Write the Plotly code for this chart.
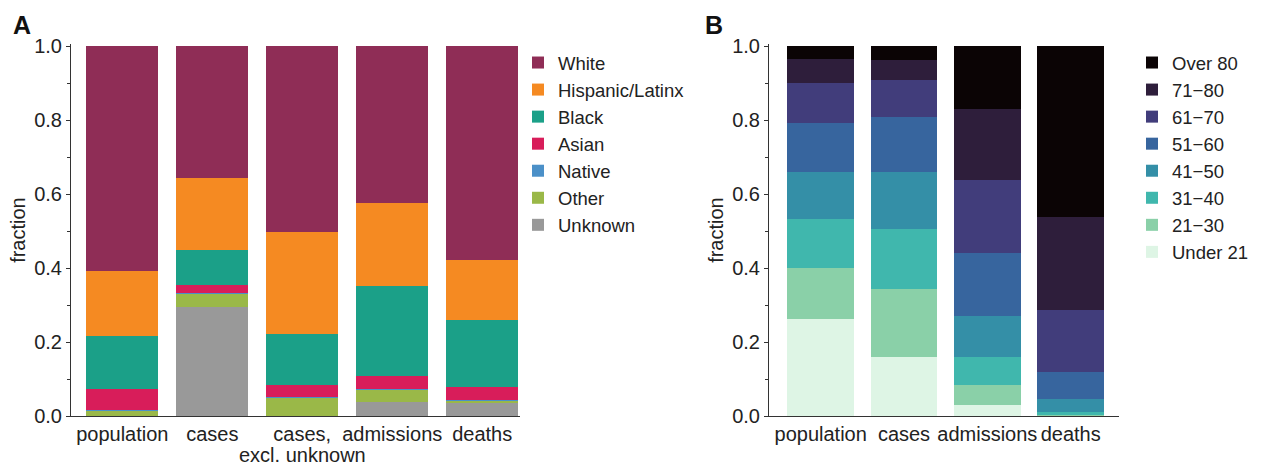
import plotly.graph_objects as go

# ---------------- Panel A: race/ethnicity ----------------
cats_a = ["population", "cases", "cases, excl. unknown", "admissions", "deaths"]
ticktext_a = ["population", "cases", "cases,", "admissions", "deaths"]
subtitle_a = "excl. unknown"
race_groups = ["Unknown", "Other", "Native", "Asian", "Black", "Hispanic/Latinx", "White"]
unknown = [0.000, 0.294, 0.000, 0.039, 0.034]
other = [0.015, 0.036, 0.050, 0.032, 0.008]
native = [0.001, 0.002, 0.002, 0.002, 0.001]
asian = [0.058, 0.022, 0.032, 0.036, 0.035]
black = [0.141, 0.096, 0.138, 0.243, 0.182]
hispanic = [0.177, 0.194, 0.276, 0.224, 0.161]
white = [0.608, 0.356, 0.502, 0.424, 0.579]
race_values = [unknown, other, native, asian, black, hispanic, white]
race_colors = ["#999999", "#9AB848", "#4B90C8", "#D81D5A", "#1BA088", "#F58A22", "#8F2D56"]

# ---------------- Panel B: age ----------------
cats_b = ["population", "cases", "admissions", "deaths"]
age_groups = ["Under 21", "21−30", "31−40", "41−50", "51−60", "61−70", "71−80", "Over 80"]
under21 = [0.262, 0.160, 0.030, 0.001]
age21_30 = [0.137, 0.184, 0.053, 0.003]
age31_40 = [0.134, 0.161, 0.076, 0.008]
age41_50 = [0.126, 0.154, 0.112, 0.034]
age51_60 = [0.132, 0.148, 0.169, 0.073]
age61_70 = [0.110, 0.101, 0.197, 0.168]
age71_80 = [0.063, 0.054, 0.192, 0.250]
over80 = [0.036, 0.038, 0.171, 0.463]
age_values = [under21, age21_30, age31_40, age41_50, age51_60, age61_70, age71_80, over80]
age_colors = ["#DEF5E5", "#8AD0A8", "#40B7AD", "#348FA7", "#37659E", "#413D7B", "#2E1E3B", "#0B0405"]

FONT = "Liberation Sans, Arial, sans-serif"
W, H = 1263, 469


def px(sx):
    return sx / W


def py(sy):
    return 1 - sy / H


fig = go.Figure()
for name, vals, col in zip(race_groups, race_values, race_colors):
    fig.add_trace(go.Bar(x=cats_a, y=vals, name=name, marker=dict(color=col, line=dict(width=0)),
                         xaxis="x", yaxis="y", legend="legend"))
for name, vals, col in zip(age_groups, age_values, age_colors):
    fig.add_trace(go.Bar(x=cats_b, y=vals, name=name, marker=dict(color=col, line=dict(width=0)),
                         xaxis="x2", yaxis="y2", legend="legend2"))

yax = dict(range=[0, 1.005], tickvals=[0, 0.2, 0.4, 0.6, 0.8, 1.0], tickformat=".1f",
           ticks="outside", ticklen=4, tickwidth=1, tickcolor="#333",
           minor=dict(tickvals=[0.1, 0.3, 0.5, 0.7, 0.9], ticks="outside", ticklen=3, tickcolor="#333"),
           showline=True, linecolor="#333", linewidth=1, showgrid=False, zeroline=False,
           tickfont=dict(size=20, color="#222"), automargin=False,
           title=dict(text="fraction", font=dict(size=20, color="#222"), standoff=3),
           domain=[py(416), py(44.15)])
xax = dict(showline=True, linecolor="#333", linewidth=1, ticks="", showgrid=False,
           tickangle=0, automargin=False, tickfont=dict(size=20, color="#222"))

fig.update_layout(
    width=W, height=H, barmode="stack", bargap=0.2,
    plot_bgcolor="white", paper_bgcolor="white",
    font=dict(family=FONT, color="#222"),
    margin=dict(l=0, r=0, t=0, b=0, autoexpand=False),
    showlegend=True,
    xaxis=dict(**xax, domain=[px(71), px(520)], range=[-0.57, 4.42],
               tickmode="array", tickvals=cats_a, ticktext=ticktext_a),
    yaxis=dict(**yax, anchor="x"),
    xaxis2=dict(**xax, domain=[px(769), px(1119)], range=[-0.62, 3.58], anchor="y2"),
    yaxis2=dict(**yax, anchor="x2"),
    legend=dict(x=px(518), y=py(44), xanchor="left", yanchor="top", traceorder="reversed",
                font=dict(size=18.5, color="#222"), tracegroupgap=0, bgcolor="rgba(0,0,0,0)"),
    legend2=dict(x=px(1132), y=py(44), xanchor="left", yanchor="top", traceorder="reversed",
                 font=dict(size=18.5, color="#222"), tracegroupgap=0, bgcolor="rgba(0,0,0,0)"),
    annotations=[
        dict(text="<b>A</b>", x=px(11), y=py(9), xref="paper", yref="paper",
             xanchor="left", yanchor="top", showarrow=False, font=dict(size=25, color="#111")),
        dict(text="<b>B</b>", x=px(703), y=py(9), xref="paper", yref="paper",
             xanchor="left", yanchor="top", showarrow=False, font=dict(size=25, color="#111")),
        dict(text=subtitle_a, x=cats_a[2], y=py(455), xref="x", yref="paper",
             xanchor="center", yanchor="middle", showarrow=False,
             font=dict(size=20, color="#222")),
    ],
)

fig.write_html("out.html", config={"displayModeBar": False},
               post_script="document.body.style.margin='0';document.body.style.overflow='hidden';")
